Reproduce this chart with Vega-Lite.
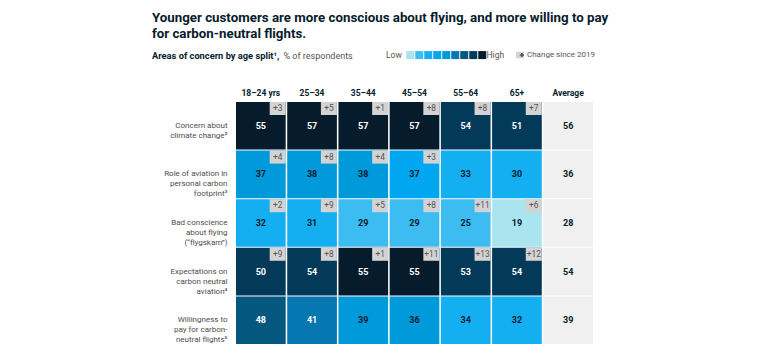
{
  "$schema": "https://vega.github.io/schema/vega-lite/v6.json",
  "width": 357,
  "height": 242,
  "autosize": {"type": "none"},
  "padding": {"left": 236, "top": 102, "right": 187, "bottom": 10},
  "background": "white",
  "title": {
    "text": ["Younger customers are more conscious about flying, and more willing to pay", "for carbon-neutral flights."],
    "subtitle": "Areas of concern by age split¹,",
    "anchor": "start",
    "frame": "group",
    "dx": -84,
    "dy": 21,
    "font": "Roboto",
    "fontSize": 13.3,
    "fontWeight": "bold",
    "color": "#051c2c",
    "lineHeight": 16,
    "subtitleFont": "Roboto",
    "subtitleFontSize": 9.3,
    "subtitleFontWeight": "bold",
    "subtitleColor": "#051c2c",
    "subtitlePadding": 12,
    "offset": 10
  },
  "data": {
    "values": [
      {"row": "Concern about|climate change²", "col": "18–24 yrs", "value": 55, "change": 3, "level": 9},
      {"row": "Concern about|climate change²", "col": "25–34", "value": 57, "change": 5, "level": 9},
      {"row": "Concern about|climate change²", "col": "35–44", "value": 57, "change": 1, "level": 9},
      {"row": "Concern about|climate change²", "col": "45–54", "value": 57, "change": 8, "level": 9},
      {"row": "Concern about|climate change²", "col": "55–64", "value": 54, "change": 8, "level": 8},
      {"row": "Concern about|climate change²", "col": "65+", "value": 51, "change": 7, "level": 8},
      {"row": "Concern about|climate change²", "col": "Average", "value": 56, "change": null, "level": null},
      {"row": "Role of aviation in|personal carbon|footprint³", "col": "18–24 yrs", "value": 37, "change": 4, "level": 5},
      {"row": "Role of aviation in|personal carbon|footprint³", "col": "25–34", "value": 38, "change": 8, "level": 5},
      {"row": "Role of aviation in|personal carbon|footprint³", "col": "35–44", "value": 38, "change": 4, "level": 5},
      {"row": "Role of aviation in|personal carbon|footprint³", "col": "45–54", "value": 37, "change": 3, "level": 4},
      {"row": "Role of aviation in|personal carbon|footprint³", "col": "55–64", "value": 33, "change": null, "level": 3},
      {"row": "Role of aviation in|personal carbon|footprint³", "col": "65+", "value": 30, "change": null, "level": 3},
      {"row": "Role of aviation in|personal carbon|footprint³", "col": "Average", "value": 36, "change": null, "level": null},
      {"row": "Bad conscience|about flying|(“flygskam”)", "col": "18–24 yrs", "value": 32, "change": 2, "level": 3},
      {"row": "Bad conscience|about flying|(“flygskam”)", "col": "25–34", "value": 31, "change": 9, "level": 3},
      {"row": "Bad conscience|about flying|(“flygskam”)", "col": "35–44", "value": 29, "change": 5, "level": 2},
      {"row": "Bad conscience|about flying|(“flygskam”)", "col": "45–54", "value": 29, "change": 8, "level": 2},
      {"row": "Bad conscience|about flying|(“flygskam”)", "col": "55–64", "value": 25, "change": 11, "level": 2},
      {"row": "Bad conscience|about flying|(“flygskam”)", "col": "65+", "value": 19, "change": 6, "level": 1},
      {"row": "Bad conscience|about flying|(“flygskam”)", "col": "Average", "value": 28, "change": null, "level": null},
      {"row": "Expectations on|carbon neutral|aviation⁴", "col": "18–24 yrs", "value": 50, "change": 9, "level": 8},
      {"row": "Expectations on|carbon neutral|aviation⁴", "col": "25–34", "value": 54, "change": 8, "level": 8},
      {"row": "Expectations on|carbon neutral|aviation⁴", "col": "35–44", "value": 55, "change": 1, "level": 9},
      {"row": "Expectations on|carbon neutral|aviation⁴", "col": "45–54", "value": 55, "change": 11, "level": 9},
      {"row": "Expectations on|carbon neutral|aviation⁴", "col": "55–64", "value": 53, "change": 13, "level": 8},
      {"row": "Expectations on|carbon neutral|aviation⁴", "col": "65+", "value": 54, "change": 12, "level": 8},
      {"row": "Expectations on|carbon neutral|aviation⁴", "col": "Average", "value": 54, "change": null, "level": null},
      {"row": "Willingness to|pay for carbon-|neutral flights⁵", "col": "18–24 yrs", "value": 48, "change": null, "level": 7},
      {"row": "Willingness to|pay for carbon-|neutral flights⁵", "col": "25–34", "value": 41, "change": null, "level": 6},
      {"row": "Willingness to|pay for carbon-|neutral flights⁵", "col": "35–44", "value": 39, "change": null, "level": 5},
      {"row": "Willingness to|pay for carbon-|neutral flights⁵", "col": "45–54", "value": 36, "change": null, "level": 5},
      {"row": "Willingness to|pay for carbon-|neutral flights⁵", "col": "55–64", "value": 34, "change": null, "level": 3},
      {"row": "Willingness to|pay for carbon-|neutral flights⁵", "col": "65+", "value": 32, "change": null, "level": 3},
      {"row": "Willingness to|pay for carbon-|neutral flights⁵", "col": "Average", "value": 39, "change": null, "level": null}
    ]
  },
  "encoding": {
    "x": {
      "field": "col", "type": "nominal",
      "sort": ["18–24 yrs", "25–34", "35–44", "45–54", "55–64", "65+", "Average"],
      "scale": {"paddingInner": 0.03, "paddingOuter": 0},
      "axis": {
        "orient": "top", "title": null, "ticks": false, "domain": false,
        "labelAngle": 0, "labelFont": "Roboto", "labelFontSize": 8.5, "labelFontWeight": "bold",
        "labelColor": "#051c2c", "labelPadding": 5
      }
    },
    "y": {
      "field": "row", "type": "nominal",
      "sort": ["Concern about|climate change²", "Role of aviation in|personal carbon|footprint³", "Bad conscience|about flying|(“flygskam”)", "Expectations on|carbon neutral|aviation⁴", "Willingness to|pay for carbon-|neutral flights⁵"],
      "scale": {"paddingInner": 0.02, "paddingOuter": 0},
      "axis": {
        "title": "% of respondents", "titleAngle": 0, "titleX": 47, "titleY": -44,
        "titleAlign": "left", "titleBaseline": "alphabetic",
        "titleFont": "Roboto", "titleFontSize": 9, "titleFontWeight": "normal", "titleColor": "#555555",
        "ticks": false, "domain": false,
        "labelExpr": "split(datum.label, '|')", "labelLineHeight": 10,
        "labelFont": "Roboto", "labelFontSize": 8, "labelColor": "#4d4d4d", "labelPadding": 9
      }
    }
  },
  "layer": [
    {
      "mark": {"type": "rect"},
      "encoding": {
        "fill": {
          "condition": {"test": "datum.col === 'Average'", "value": "#f0f0f0"},
          "field": "level", "type": "ordinal",
          "scale": {"domain": [1, 2, 3, 4, 5, 6, 7, 8, 9], "range": ["#a9e4ef", "#3dbcf2", "#14aff0", "#00a6f0", "#0099da", "#0677b0", "#04577f", "#033a5a", "#061b2b"]},
          "legend": {
            "orient": "none", "legendX": 150, "legendY": -51.3, "direction": "horizontal", "columns": 9,
            "title": "Low", "titleOrient": "left", "titleFont": "Roboto", "titleFontSize": 8.5, "titleFontWeight": "normal",
            "titleColor": "#555555", "titlePadding": 4,
            "symbolType": "square", "symbolSize": 64, "symbolStrokeWidth": 0,
            "labelExpr": "datum.value == 9 ? '\u2002High' : ''", "labelOffset": 0, "columnPadding": 0,
            "labelFont": "Roboto", "labelFontSize": 8.5, "labelColor": "#555555"
          }
        }
      }
    },
    {
      "mark": {"type": "text", "font": "Roboto", "fontSize": 9, "fontWeight": "bold"},
      "encoding": {
        "text": {"field": "value", "type": "quantitative"},
        "color": {
          "condition": {"test": "datum.level >= 6", "value": "#ffffff"},
          "value": "#051c2c"
        }
      }
    },
    {
      "transform": [{"filter": "datum.change != null"}],
      "mark": {"type": "point", "filled": true, "fill": "#d3d3d3", "opacity": 1, "strokeWidth": 0, "size": 256, "xOffset": -8, "yOffset": 6.5},
      "encoding": {
        "x": {"field": "col", "type": "nominal", "bandPosition": 1, "sort": ["18–24 yrs", "25–34", "35–44", "45–54", "55–64", "65+", "Average"]},
        "y": {"field": "row", "type": "nominal", "bandPosition": 0, "sort": ["Concern about|climate change²", "Role of aviation in|personal carbon|footprint³", "Bad conscience|about flying|(“flygskam”)", "Expectations on|carbon neutral|aviation⁴", "Willingness to|pay for carbon-|neutral flights⁵"]},
        "shape": {
          "datum": "Change since 2019",
          "scale": {"range": ["M-1,-0.8125H1V0.8125H-1Z"]},
          "legend": {
            "orient": "none", "legendX": 280, "legendY": -51, "title": null,
            "symbolFillColor": "#d3d3d3", "symbolStrokeWidth": 0, "symbolSize": 64,
            "labelFont": "Roboto", "labelFontSize": 8, "labelColor": "#555555", "labelOffset": 3
          }
        }
      }
    },
    {
      "transform": [{"filter": "datum.change != null"}],
      "mark": {"type": "text", "font": "Roboto", "fontSize": 8.3, "color": "#555555", "xOffset": -8, "yOffset": 7},
      "encoding": {
        "x": {"field": "col", "type": "nominal", "bandPosition": 1, "sort": ["18–24 yrs", "25–34", "35–44", "45–54", "55–64", "65+", "Average"]},
        "y": {"field": "row", "type": "nominal", "bandPosition": 0, "sort": ["Concern about|climate change²", "Role of aviation in|personal carbon|footprint³", "Bad conscience|about flying|(“flygskam”)", "Expectations on|carbon neutral|aviation⁴", "Willingness to|pay for carbon-|neutral flights⁵"]},
        "text": {"field": "change", "type": "quantitative", "format": "+d"},
        "opacity": {
          "datum": "plus", "type": "ordinal",
          "scale": {"range": [1]},
          "legend": {
            "orient": "none", "legendX": 281.9, "legendY": -51, "title": null,
            "symbolType": "cross", "symbolFillColor": "#555555", "symbolStrokeWidth": 0, "symbolSize": 18,
            "labelExpr": "''", "labelOffset": 0, "labelFontSize": 8
          }
        }
      }
    }
  ],
  "config": {
    "view": {"stroke": null},
    "font": "Roboto"
  }
}
